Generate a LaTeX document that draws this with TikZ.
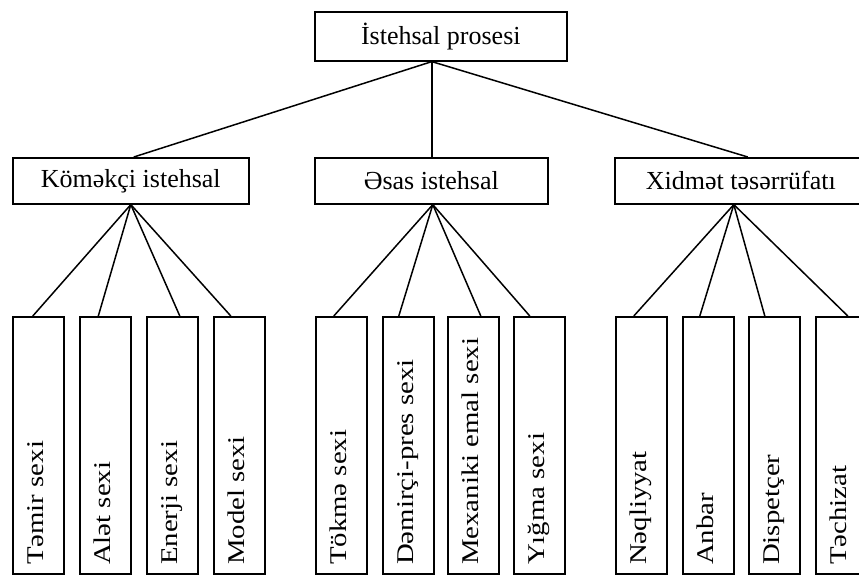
\documentclass[tikz,border=0pt]{standalone}
\usepackage{fontspec}
\setmainfont{Liberation Serif}
\newfontfamily\vfont[FakeStretch=1.2]{Liberation Serif}
\usetikzlibrary{calc}
\begin{document}
\begin{tikzpicture}[x=1pt,y=-1pt,
 box/.style={draw, line width=1.6pt, inner sep=0pt, anchor=north west},
 hbox/.style={box, minimum height=46pt, font=\fontsize{26}{28}\selectfont},
 vbox/.style={box, minimum width=51pt, minimum height=257pt},
 vlabel/.style={rotate=90, anchor=base west, inner sep=0pt, yshift=-5pt, font=\vfont\fontsize{24}{26}\selectfont},
 link/.style={line width=1.5pt}]
\useasboundingbox (0,0) rectangle (859,574);
\clip (0,0) rectangle (859,574);
\coordinate (base) at (0,565);
% upper boxes
\node[hbox, minimum width=252pt, minimum height=49pt] (top) at (314,11) {İstehsal prosesi};
\node[hbox, minimum width=236pt] (kom) at (12,157) {Köməkçi istehsal};
\node[hbox, minimum width=233pt] (esas) at (314,157) {Əsas istehsal};
\node[hbox, minimum width=252pt] (xid) at (614,157) {Xidmət təsərrüfatı};
% lower boxes
\node[vbox] (a1) at (12,316) {};
\node[vbox] (a2) at (79,316) {};
\node[vbox] (a3) at (146,316) {};
\node[vbox] (a4) at (213,316) {};
\node[vbox] (b1) at (315,316) {};
\node[vbox] (b2) at (382,316) {};
\node[vbox] (b3) at (447,316) {};
\node[vbox] (b4) at (513,316) {};
\node[vbox] (c1) at (615,316) {};
\node[vbox] (c2) at (682,316) {};
\node[vbox] (c3) at (748,316) {};
\node[vbox] (c4) at (815,316) {};
% labels
\node[vlabel] (la1) at (a1.north |- base) {Təmir sexi};
\node[vlabel] (la2) at (a2.north |- base) {Alət sexi};
\node[vlabel] (la3) at (a3.north |- base) {Enerji sexi};
\node[vlabel] (la4) at (a4.north |- base) {Model sexi};
\node[vlabel] (lb1) at (b1.north |- base) {Tökmə sexi};
\node[vlabel] (lb2) at (b2.north |- base) {Dəmirçi-pres sexi};
\node[vlabel] (lb3) at (b3.north |- base) {Mexaniki emal sexi};
\node[vlabel] (lb4) at (b4.north |- base) {Yığma sexi};
\node[vlabel] (lc1) at (c1.north |- base) {Nəqliyyat};
\node[vlabel] (lc2) at (c2.north |- base) {Anbar};
\node[vlabel] (lc3) at (c3.north |- base) {Dispetçer};
\node[vlabel] (lc4) at (c4.north |- base) {Təchizat};
% connectors top level
\coordinate (jt) at ($(top.south)+(-9,0)$);
\draw[link] (jt) -- ($(kom.north)+(3,0)$);
\draw[link] (jt) -- ($(esas.north)+(0.5,0)$);
\draw[link] (jt) -- ($(xid.north)+(7,0)$);
% connectors second level
\coordinate (jk) at (kom.south);
\draw[link] (jk) -- ($(a1.north)+(-5.5,0)$);
\draw[link] (jk) -- ($(a2.north)+(-7,0)$);
\draw[link] (jk) -- ($(a3.north)+(7.5,0)$);
\draw[link] (jk) -- ($(a4.north)+(-8.5,0)$);
\coordinate (je) at ($(esas.south)+(1.5,0)$);
\draw[link] (je) -- ($(b1.north)+(-7.5,0)$);
\draw[link] (je) -- ($(b2.north)+(-9.5,0)$);
\draw[link] (je) -- ($(b3.north)+(7.5,0)$);
\draw[link] (je) -- ($(b4.north)+(-9.5,0)$);
\coordinate (jx) at ($(xid.south)+(-7,0)$);
\draw[link] (jx) -- ($(c1.north)+(-7.5,0)$);
\draw[link] (jx) -- ($(c2.north)+(-8.5,0)$);
\draw[link] (jx) -- ($(c3.north)+(-9.5,0)$);
\draw[link] (jx) -- ($(c4.north)+(6.5,0)$);
\end{tikzpicture}
\end{document}
